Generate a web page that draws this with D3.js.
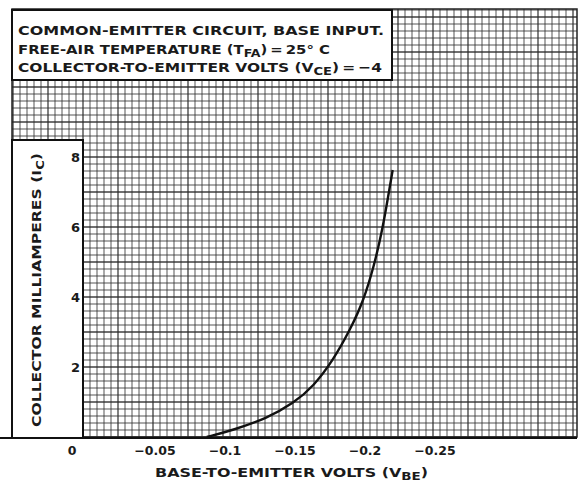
<!DOCTYPE html>
<html>
<head>
<meta charset="utf-8">
<script src="https://cdn.jsdelivr.net/npm/d3@7"></script>
<style>
  body { margin: 0; background: #fff; }
  text { font-family: "DejaVu Sans", sans-serif; font-weight: bold; fill: #1a1a1a; }
</style>
</head>
<body>
<svg id="chart" width="581" height="484"></svg>
<script>
// data
var vbe = [-0.0884, -0.1074, -0.1312, -0.1502, -0.1645, -0.1788, -0.1907, -0.2000, -0.2080, -0.2140, -0.2181, -0.2212];
var ic  = [0, 0.2, 0.53, 0.96, 1.44, 2.2, 3.06, 3.85, 4.9, 5.95, 6.9, 7.63];
var xTicks = [0, -0.05, -0.1, -0.15, -0.2, -0.25];
var xTickLabels = ["0", "\u22120.05", "\u22120.1", "\u22120.15", "\u22120.2", "\u22120.25"];
var yTicks = [2, 4, 6, 8];

var svg = d3.select("#chart");

var x = d3.scaleLinear().domain([0, -0.25]).range([83, 433]);
var y = d3.scaleLinear().domain([0, 8]).range([437, 157]);

// graph paper: whole sheet, then white boxes on top
var pLeft = 12, pRight = 577, pTop = 9, pBottom = 437;
svg.append("clipPath").attr("id", "paper")
  .append("rect").attr("x", pLeft).attr("y", pTop)
  .attr("width", pRight - pLeft).attr("height", pBottom - pTop);

var grid = svg.append("g").attr("clip-path", "url(#paper)");
var vLines = d3.range(0, 82).map(i => 0.05 - i * 0.005);
var hLines = d3.range(0, 62).map(i => i * 0.2);

grid.selectAll(".v").data(vLines).enter().append("line")
  .attr("x1", d => x(d)).attr("x2", d => x(d))
  .attr("y1", pTop).attr("y2", pBottom)
  .attr("stroke", "#2a2a2a")
  .attr("stroke-width", (d, i) => i % 5 == 0 ? 1.3 : 1)
  .attr("stroke-opacity", (d, i) => i % 5 == 0 ? 0.9 : 0.8);

grid.selectAll(".h").data(hLines).enter().append("line")
  .attr("x1", pLeft).attr("x2", pRight)
  .attr("y1", d => y(d)).attr("y2", d => y(d))
  .attr("stroke", "#2a2a2a")
  .attr("stroke-width", (d, i) => i % 5 == 0 ? 1.3 : 1)
  .attr("stroke-opacity", (d, i) => i % 5 == 0 ? 0.9 : 0.8);

// sheet outline
svg.append("rect").attr("x", pLeft).attr("y", pTop)
  .attr("width", pRight - pLeft).attr("height", pBottom - pTop)
  .attr("fill", "none").attr("stroke", "#222").attr("stroke-width", 1.5);

// title box
svg.append("rect").attr("x", 12).attr("y", 10).attr("width", 380).attr("height", 70)
  .attr("fill", "#fff").attr("stroke", "#111").attr("stroke-width", 2);

// y label box
svg.append("rect").attr("x", 12).attr("y", 140).attr("width", 71).attr("height", 298)
  .attr("fill", "#fff").attr("stroke", "#111").attr("stroke-width", 2);

// base line across the bottom
svg.append("line").attr("x1", 0).attr("x2", pRight)
  .attr("y1", pBottom + 1).attr("y2", pBottom + 1)
  .attr("stroke", "#111").attr("stroke-width", 2);

// curve
var pts = vbe.map((v, i) => [v, ic[i]]);
var line = d3.line()
  .x(d => x(d[0])).y(d => y(d[1]))
  .curve(d3.curveBasis);
svg.append("path").datum(pts)
  .attr("d", line)
  .attr("fill", "none").attr("stroke", "#111").attr("stroke-width", 2.4);

// title lines
var t1 = svg.append("text").attr("x", 18).attr("y", 35).attr("font-size", 13)
  .attr("textLength", 366).attr("lengthAdjust", "spacingAndGlyphs")
  .text("COMMON-EMITTER CIRCUIT, BASE INPUT.");

var t2 = svg.append("text").attr("x", 18).attr("y", 54).attr("font-size", 13);
t2.append("tspan").text("FREE-AIR TEMPERATURE (T");
t2.append("tspan").attr("font-size", 11).attr("dy", 3).text("FA");
t2.append("tspan").attr("dy", -3).text(")\u2009=\u200925\u00b0 C");
t2.attr("textLength", 312).attr("lengthAdjust", "spacingAndGlyphs");

var t3 = svg.append("text").attr("x", 18).attr("y", 72).attr("font-size", 13);
t3.append("tspan").text("COLLECTOR-TO-EMITTER VOLTS (V");
t3.append("tspan").attr("font-size", 11).attr("dy", 3).text("CE");
t3.append("tspan").attr("dy", -3).text(")\u2009=\u2009\u22124");
t3.attr("textLength", 364).attr("lengthAdjust", "spacingAndGlyphs");

// y ticks
svg.selectAll(".ytick").data(yTicks).enter().append("text")
  .attr("x", 80).attr("y", d => y(d) + 5)
  .attr("text-anchor", "end").attr("font-size", 13)
  .text(d => d);

// x ticks
svg.selectAll(".xtick").data(xTicks).enter().append("text")
  .attr("x", (d, i) => i == 0 ? x(d) - 11 : x(d) + 2)
  .attr("y", 455)
  .attr("text-anchor", "middle").attr("font-size", 12.5)
  .text((d, i) => xTickLabels[i]);

// y axis title
var yt = svg.append("text")
  .attr("transform", "translate(41,290) rotate(-90)")
  .attr("text-anchor", "middle").attr("font-size", 13);
yt.append("tspan").text("COLLECTOR MILLIAMPERES (I");
yt.append("tspan").attr("font-size", 11).attr("dy", 3).text("C");
yt.append("tspan").attr("dy", -3).text(")");
yt.attr("textLength", 274).attr("lengthAdjust", "spacingAndGlyphs");

// x axis title
var xt = svg.append("text").attr("x", 155).attr("y", 477).attr("font-size", 13);
xt.append("tspan").text("BASE-TO-EMITTER VOLTS (V");
xt.append("tspan").attr("font-size", 11).attr("dy", 3).text("BE");
xt.append("tspan").attr("dy", -3).text(")");
xt.attr("textLength", 273).attr("lengthAdjust", "spacingAndGlyphs");
</script>
</body>
</html>
